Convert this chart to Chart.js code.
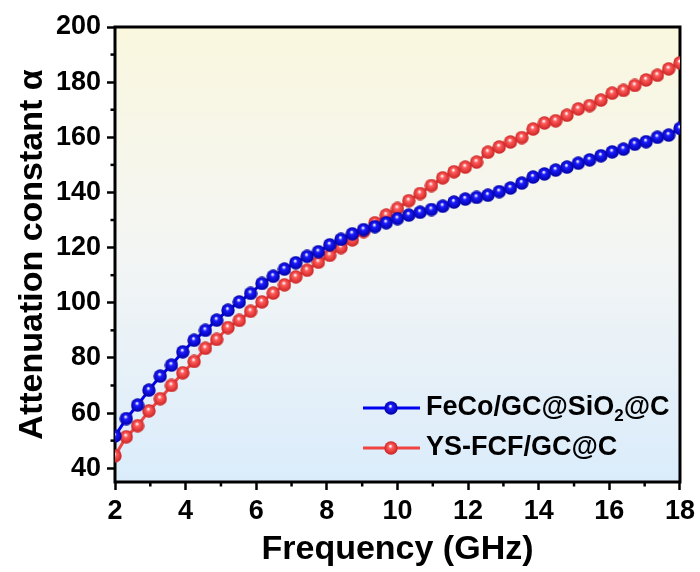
<!DOCTYPE html>
<html>
<head>
<meta charset="utf-8">
<script src="https://cdn.jsdelivr.net/npm/chart.js@4.4.1/dist/chart.umd.min.js"></script>
<style>
html, body { margin: 0; padding: 0; background: #fff; }
#wrap { width: 700px; height: 572px; }
</style>
</head>
<body>
<div id="wrap"><canvas id="att-chart" width="700" height="572"></canvas></div>
<script>
// frequency points (GHz)
var freq = [2, 2.32, 2.64, 2.96, 3.28, 3.6, 3.92, 4.24, 4.56, 4.88,
    5.2, 5.52, 5.84, 6.16, 6.48, 6.8, 7.12, 7.44, 7.76, 8.08,
    8.4, 8.72, 9.04, 9.36, 9.68, 10, 10.32, 10.64, 10.96, 11.28,
    11.6, 11.92, 12.24, 12.56, 12.88, 13.2, 13.52, 13.84, 14.16, 14.48,
    14.8, 15.12, 15.44, 15.76, 16.08, 16.4, 16.72, 17.04, 17.36, 17.68, 18];

// FeCo/GC@SiO2@C
var fecoSio2 = [51.7, 58, 62.9, 68.3, 73.4, 77.4, 82.2, 86.4, 90, 93.7,
    97.3, 100.3, 103.4, 107, 109.6, 112.2, 114.5, 116.8, 118.5, 121,
    123, 125, 126.5, 127.6, 129, 130.5, 131.8, 132.8, 133.8, 135,
    136.5, 137.6, 138.2, 139, 140.3, 141.6, 143.4, 145.6, 146.7, 148.1,
    149.2, 150.6, 151.8, 153.3, 154.7, 155.7, 157.5, 158.4, 160, 160.8, 163.2];

// YS-FCF/GC@C
var ysFcf = [44.5, 51.4, 55.4, 60.8, 65.2, 70, 74.6, 78.7, 83.5, 86.7,
    91, 93.6, 96.9, 100.3, 103.5, 106.5, 109.4, 111.8, 114.7, 117.2,
    120, 122.8, 125.8, 129, 131.8, 134.2, 137, 139.6, 142.5, 145.3,
    147.5, 149.2, 151, 154.6, 156.5, 158.3, 159.9, 163, 165.2, 166,
    168, 170.3, 171.5, 173.5, 176, 177, 178.8, 180.8, 182.5, 184.8, 187];

var xTicks = [2, 4, 6, 8, 10, 12, 14, 16, 18];
var xMinor = [3, 5, 7, 9, 11, 13, 15, 17];
var yTicks = [40, 60, 80, 100, 120, 140, 160, 180, 200];
var yMinor = [50, 70, 90, 110, 130, 150, 170, 190];

var FONT = '"Liberation Sans", Arial, sans-serif';
var BLUE = '#0000f0';
var RED = '#f04444';

// little shaded ball used as the marker
function ball(color, dark) {
    var c = document.createElement('canvas');
    var s = 14;
    c.width = s; c.height = s;
    var g = c.getContext('2d');
    var grad = g.createRadialGradient(s * 0.45, s * 0.36, 0.4, s / 2, s / 2, s / 2);
    grad.addColorStop(0, '#ffffff');
    grad.addColorStop(0.28, color);
    grad.addColorStop(1, dark);
    g.fillStyle = grad;
    g.beginPath();
    g.arc(s / 2, s / 2, s / 2 - 0.3, 0, Math.PI * 2);
    g.fill();
    return c;
}
var blueBall = ball('#1a1aff', '#0000a0');
var redBall = ball('#ff5a5a', '#c82020');

function toXY(xs, ys) {
    return xs.map(function (x, i) { return { x: x, y: ys[i] }; });
}

var bgPlugin = {
    id: 'bg',
    beforeDraw: function (chart) {
        var a = chart.chartArea, ctx = chart.ctx;
        var grad = ctx.createLinearGradient(0, a.top, 0, a.bottom);
        grad.addColorStop(0, '#faf7de');
        grad.addColorStop(0.5, '#f3f5f4');
        grad.addColorStop(1, '#daecfb');
        ctx.save();
        ctx.fillStyle = grad;
        ctx.fillRect(a.left, a.top, a.right - a.left, a.bottom - a.top);
        ctx.restore();
    }
};

var framePlugin = {
    id: 'frame',
    beforeDatasetsDraw: function (chart) {
        var a = chart.chartArea, ctx = chart.ctx;
        var xs = chart.scales.x, ys = chart.scales.y;
        ctx.save();
        ctx.strokeStyle = '#000';
        ctx.lineWidth = 2.5;
        xMinor.forEach(function (v) {
            var px = xs.getPixelForValue(v);
            ctx.beginPath(); ctx.moveTo(px, a.bottom); ctx.lineTo(px, a.bottom + 4.5); ctx.stroke();
        });
        yMinor.forEach(function (v) {
            var py = ys.getPixelForValue(v);
            ctx.beginPath(); ctx.moveTo(a.left, py); ctx.lineTo(a.left - 4.5, py); ctx.stroke();
        });
        ctx.lineWidth = 3;
        ctx.strokeRect(a.left, a.top, a.right - a.left, a.bottom - a.top);
        ctx.restore();
    }
};

var legendPlugin = {
    id: 'legendBox',
    afterDraw: function (chart) {
        var ctx = chart.ctx;
        var rows = [
            { color: BLUE, img: blueBall, y: 408 },
            { color: RED, img: redBall, y: 448 }
        ];
        ctx.save();
        rows.forEach(function (r) {
            ctx.strokeStyle = r.color;
            ctx.lineWidth = 3;
            ctx.beginPath(); ctx.moveTo(363, r.y); ctx.lineTo(420, r.y); ctx.stroke();
            ctx.drawImage(r.img, 391 - 7, r.y - 7);
        });
        ctx.fillStyle = '#000';
        ctx.textBaseline = 'middle';
        ctx.font = 'bold 27px ' + FONT;
        var x = 426;
        ctx.fillText('FeCo/GC@SiO', x, 408);
        x += ctx.measureText('FeCo/GC@SiO').width;
        ctx.font = 'bold 17px ' + FONT;
        ctx.fillText('2', x, 416);
        x += ctx.measureText('2').width;
        ctx.font = 'bold 27px ' + FONT;
        ctx.fillText('@C', x, 408);
        ctx.fillText('YS-FCF/GC@C', 426, 448);
        ctx.restore();
    }
};

var ctx = document.getElementById('att-chart').getContext('2d');
var myChart = new Chart(ctx, {
    type: 'line',
    data: {
        datasets: [{
            label: 'FeCo/GC@SiO2@C',
            data: toXY(freq, fecoSio2),
            borderColor: BLUE,
            borderWidth: 3,
            pointStyle: blueBall,
            tension: 0
        }, {
            label: 'YS-FCF/GC@C',
            data: toXY(freq, ysFcf),
            borderColor: RED,
            borderWidth: 3,
            pointStyle: redBall,
            tension: 0
        }]
    },
    options: {
        responsive: false,
        animation: false,
        layout: { padding: { top: 27, right: 20, left: 0, bottom: 0 } },
        plugins: {
            legend: { display: false },
            tooltip: { enabled: false }
        },
        scales: {
            x: {
                type: 'linear',
                min: 2,
                max: 18,
                afterBuildTicks: function (s) { s.ticks = xTicks.map(function (v) { return { value: v }; }); },
                afterFit: function (s) { s.height = 90; },
                border: { display: false },
                grid: { drawOnChartArea: false, drawTicks: true, tickLength: 8, tickWidth: 2.5, tickColor: '#000' },
                ticks: { color: '#000', padding: 5, font: { family: FONT, size: 27, weight: 'bold' } },
                title: {
                    display: true,
                    text: 'Frequency (GHz)',
                    color: '#000',
                    padding: { top: 0, bottom: 2 },
                    font: { family: FONT, size: 34, weight: 'bold' }
                }
            },
            y: {
                min: 35,
                max: 200,
                afterBuildTicks: function (s) { s.ticks = yTicks.map(function (v) { return { value: v }; }); },
                afterFit: function (s) { s.width = 115; },
                border: { display: false },
                grid: { drawOnChartArea: false, drawTicks: true, tickLength: 8, tickWidth: 2.5, tickColor: '#000' },
                ticks: { color: '#000', padding: 6, font: { family: FONT, size: 27, weight: 'bold' } },
                title: {
                    display: true,
                    text: 'Attenuation constant α',
                    color: '#000',
                    padding: { top: 12, bottom: 0 },
                    font: { family: FONT, size: 34, weight: 'bold' }
                }
            }
        }
    },
    plugins: [bgPlugin, framePlugin, legendPlugin]
});
</script>
</body>
</html>
